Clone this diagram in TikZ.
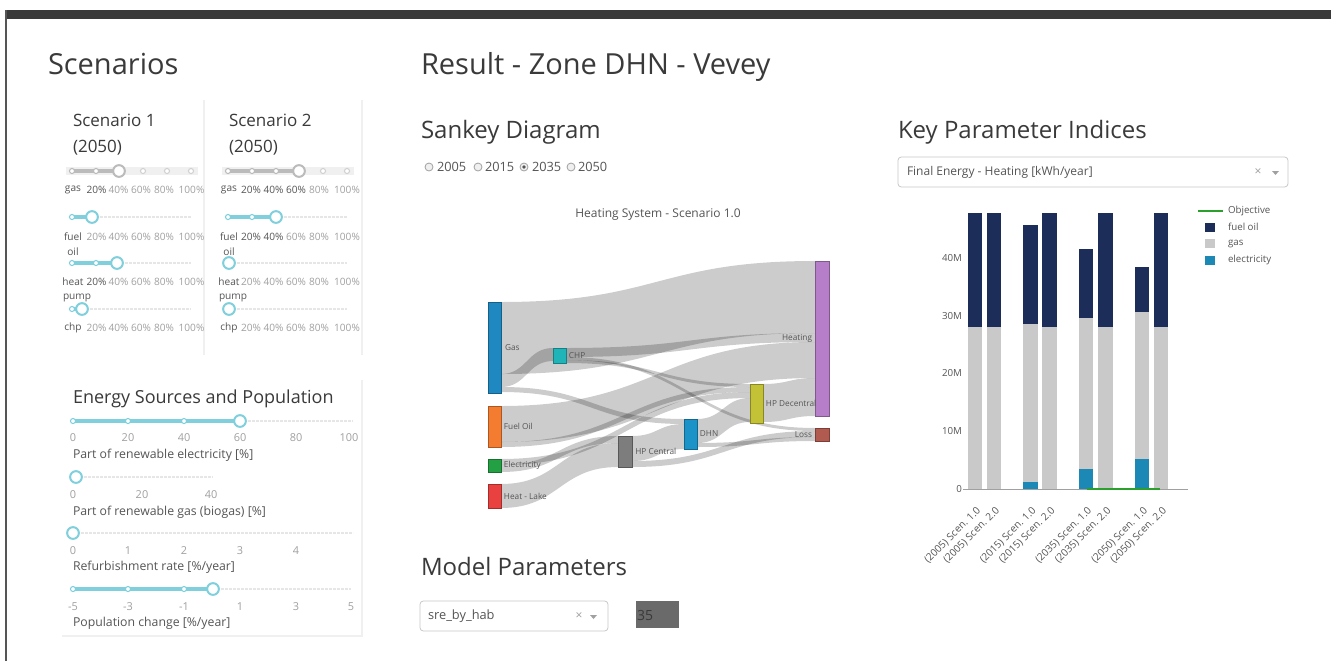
\documentclass[tikz,border=0pt]{standalone}
\usepackage{fontspec}
\setmainfont{Open Sans}
\usetikzlibrary{calc,backgrounds}
\definecolor{titlec}{HTML}{3A3A3A}
\definecolor{textc}{HTML}{555555}
\definecolor{lightc}{HTML}{A0A0A0}
\definecolor{cyanc}{HTML}{7FD0DC}
\definecolor{faintc}{HTML}{E6E6E6}
\definecolor{paneline}{HTML}{F0F0F0}
\definecolor{grayslide}{HTML}{BBBBBB}
\definecolor{navyc}{HTML}{1C2D5A}
\definecolor{gasc}{HTML}{C9C9C9}
\definecolor{elecc}{HTML}{1B88B5}
\definecolor{objc}{HTML}{2CA02C}
\definecolor{skgas}{HTML}{1F88C0}
\definecolor{skchp}{HTML}{1FB5B8}
\definecolor{skfuel}{HTML}{F47C30}
\definecolor{skelec}{HTML}{23A043}
\definecolor{sklake}{HTML}{E8413F}
\definecolor{skhpc}{HTML}{7D7D7D}
\definecolor{skdhn}{HTML}{1B92C8}
\definecolor{skhpd}{HTML}{C3C135}
\definecolor{skheat}{HTML}{B67EC8}
\definecolor{skloss}{HTML}{B05A50}
\newcommand\sknode[6]{\node[sknodestyle, fill=#6, draw=#6!70!black, minimum width={(#4-#2)*0.75pt}, minimum height={(#5-#3)*0.75pt}] (#1) at ({(#2+#4)/2},{(#3+#5)/2}) {};}
\newcommand\sklink[5]{%
  \path ($(#1.north east)+(0,#2)$) coordinate (s1) ($(#1.north east)+(0,{#2+#5})$) coordinate (s2)
        ($(#3.north west)+(0,#4)$) coordinate (t1) ($(#3.north west)+(0,{#4+#5})$) coordinate (t2)
        ($(s1)!0.5!(t1)$) coordinate (mm);
  \fill[linkc] (s1) .. controls (mm |- s1) and (mm |- t1) .. (t1) -- (t2) .. controls (mm |- t2) and (mm |- s2) .. (s2) -- cycle;}
\begin{document}
\begin{tikzpicture}[x=0.75pt,y=-0.75pt,
  txt/.style={inner sep=0pt, outer sep=0pt, text=textc},
  h1/.style={txt, anchor=base west, text=titlec, font=\fontsize{21.75}{26}\selectfont},
  h2/.style={txt, anchor=base west, text=titlec, font=\fontsize{18}{22}\selectfont},
  h3/.style={txt, anchor=base west, text=titlec, font=\fontsize{13.5}{16}\selectfont},
  scen/.style={txt, anchor=base west, text=titlec, font=\fontsize{12.75}{15}\selectfont},
  mk/.style={txt, font=\fontsize{7.6}{9}\selectfont},
  num/.style={txt, text=lightc, font=\fontsize{8.2}{10}\selectfont},
  stitle/.style={txt, anchor=west, font=\fontsize{9.2}{11}\selectfont},
  radiotxt/.style={txt, anchor=west, font=\fontsize{9.6}{11}\selectfont},
  sklab/.style={txt, text=textc, font=\fontsize{6.2}{7}\selectfont},
  sknodestyle/.style={rectangle, inner sep=0pt, outer sep=0pt, line width=0.4pt},
  linkc/.style={fill=black, fill opacity=0.2},
  tick/.style={txt, anchor=east, font=\fontsize{7.3}{9}\selectfont},
  leg/.style={txt, anchor=west, font=\fontsize{7.3}{9}\selectfont},
  xlab/.style={txt, anchor=east, rotate=45, font=\fontsize{7.6}{9}\selectfont},
  ddbox/.style={draw=gasc, line width=0.6pt, rounded corners=2.5pt},
  trackon/.style={line width=3pt, cyanc},
  trackgray/.style={line width=3pt, grayslide},
  trackoff/.style={line width=1.2pt, faintc, dash pattern=on 2pt off 1pt},
  sdot/.style={draw=cyanc, fill=white, line width=0.8pt},
  gdot/.style={draw=grayslide, fill=white, line width=0.8pt},
  ldot/.style={draw=faintc!80!gray, fill=white, line width=0.8pt},
  handle/.style={draw=cyanc, fill=white, line width=1.5pt},
  ghandle/.style={draw=grayslide, fill=white, line width=1.5pt},
  radio/.style={draw=lightc, fill=paneline, line width=0.6pt}
]
\begin{pgfonlayer}{background}
\fill[white] (0,0) rectangle (1331,661);
\end{pgfonlayer}
\useasboundingbox (0,0) rectangle (1331,661);

% frame
\fill[titlec] (5,10) rectangle (1331,19);
\draw[textc, line width=1.5pt] (5.5,10) -- (5.5,661);

% faint panel lines
\draw[paneline, line width=0.8pt] (204,100) -- (204,355);
\draw[paneline, line width=0.8pt] (362,100) -- (362,355);
\draw[paneline, line width=0.8pt] (362,380) -- (362,636) -- (62,636);

% titles
\node[h1] (tscen) at (48,74) {Scenarios};
\node[h1] (tres) at (421,74) {Result - Zone DHN - Vevey};
\node[h2] (tsankey) at (421,138) {Sankey Diagram};
\node[h2] (tkpi) at (898,138) {Key Parameter Indices};
\node[h2] (tmodel) at (421,575) {Model Parameters};
\node[h3] (tenergy) at (73,403) {Energy Sources and Population};

% scenario headers
\node[scen] (sc1a) at (73,126) {Scenario 1};
\node[scen] (sc1b) at (73,152) {(2050)};
\node[scen] (sc2a) at (229,126) {Scenario 2};
\node[scen] (sc2b) at (229,152) {(2050)};

% ---- Scenario 1 sliders
\fill[paneline] (66,167) rectangle (198,175);
\draw[trackgray] (72,171) -- (119,171);
\foreach \d in {72,96} \draw[gdot] (\d,171) circle[radius=1.9pt];
\foreach \d in {143,167,191} \draw[ldot] (\d,171) circle[radius=1.9pt];
\draw[ghandle] (119,171) circle[radius=4.4pt];
\foreach \t/\xx/\c [count=\i] in {gas/73/textc,20\%/96.5/textc,40\%/118.5/lightc,60\%/141/lightc,80\%/164/lightc,100\%/191.5/lightc}
  \node[mk,text=\c] (sag\i) at (\xx,190) {\t};

\draw[trackoff] (92,217) -- (191,217);
\draw[trackon] (72,217) -- (92,217);
\draw[sdot] (72,217) circle[radius=1.9pt];
\draw[handle] (92,217) circle[radius=4.4pt];
\foreach \t/\xx/\c [count=\i] in {fuel/73/textc,20\%/96.5/lightc,40\%/118.5/lightc,60\%/141/lightc,80\%/164/lightc,100\%/191.5/lightc}
  \node[mk,text=\c] (saf\i) at (\xx,237) {\t};
\node[mk] (saoil) at (73,252) {oil};

\draw[trackoff] (117,263) -- (191,263);
\draw[trackon] (72,263) -- (117,263);
\foreach \d in {72,96} \draw[sdot] (\d,263) circle[radius=1.9pt];
\draw[handle] (117,263) circle[radius=4.4pt];
\foreach \t/\xx/\c [count=\i] in {heat/73/textc,20\%/96.5/textc,40\%/118.5/lightc,60\%/141/lightc,80\%/164/lightc,100\%/191.5/lightc}
  \node[mk,text=\c] (sah\i) at (\xx,282) {\t};
\node[mk, anchor=west] (sapump) at (63,298) {pump};

\draw[trackoff] (82,309) -- (191,309);
\draw[trackon] (72,309) -- (82,309);
\draw[sdot] (72,309) circle[radius=1.9pt];
\draw[handle] (82,309) circle[radius=4.4pt];
\foreach \t/\xx/\c [count=\i] in {chp/73/textc,20\%/96.5/lightc,40\%/118.5/lightc,60\%/141/lightc,80\%/164/lightc,100\%/191.5/lightc}
  \node[mk,text=\c] (sac\i) at (\xx,328) {\t};

% ---- Scenario 2 sliders
\fill[paneline] (222,167) rectangle (354,175);
\draw[trackgray] (228,171) -- (299,171);
\foreach \d in {228,252,276} \draw[gdot] (\d,171) circle[radius=1.9pt];
\foreach \d in {323,347} \draw[ldot] (\d,171) circle[radius=1.9pt];
\draw[ghandle] (299,171) circle[radius=4.4pt];
\foreach \t/\xx/\c [count=\i] in {gas/229/textc,20\%/251/textc,40\%/273.5/textc,60\%/296/textc,80\%/319/lightc,100\%/347/lightc}
  \node[mk,text=\c] (sbg\i) at (\xx,190) {\t};

\draw[trackoff] (276,217) -- (347,217);
\draw[trackon] (228,217) -- (276,217);
\foreach \d in {228,252} \draw[sdot] (\d,217) circle[radius=1.9pt];
\draw[handle] (276,217) circle[radius=4.4pt];
\foreach \t/\xx/\c [count=\i] in {fuel/229/textc,20\%/251/textc,40\%/273.5/textc,60\%/296/lightc,80\%/319/lightc,100\%/347/lightc}
  \node[mk,text=\c] (sbf\i) at (\xx,237) {\t};
\node[mk] (sboil) at (229,252) {oil};

\draw[trackoff] (229,263) -- (347,263);
\draw[handle] (229,263) circle[radius=4.4pt];
\foreach \t/\xx/\c [count=\i] in {heat/229/textc,20\%/251/lightc,40\%/273.5/lightc,60\%/296/lightc,80\%/319/lightc,100\%/347/lightc}
  \node[mk,text=\c] (sbh\i) at (\xx,282) {\t};
\node[mk, anchor=west] (sbpump) at (219,298) {pump};

\draw[trackoff] (229,309) -- (347,309);
\draw[handle] (229,309) circle[radius=4.4pt];
\foreach \t/\xx/\c [count=\i] in {chp/229/textc,20\%/251/lightc,40\%/273.5/lightc,60\%/296/lightc,80\%/319/lightc,100\%/347/lightc}
  \node[mk,text=\c] (sbc\i) at (\xx,328) {\t};

% ---- Energy sources sliders
\draw[trackoff] (240,421) -- (353,421);
\draw[trackon] (73,421) -- (240,421);
\foreach \d in {73,128,184} \draw[sdot] (\d,421) circle[radius=1.9pt];
\draw[handle] (240,421) circle[radius=4.4pt];
\foreach \t/\xx [count=\i] in {0/73,20/128,40/184,60/240,80/296,100/349}
  \node[num] (ea\i) at (\xx,438) {\t};
\node[stitle] (eat) at (73,455) {Part of renewable electricity [\%]};

\draw[trackoff] (76,477) -- (213,477);
\draw[handle] (76,477) circle[radius=4.4pt];
\foreach \t/\xx [count=\i] in {0/73,20/142,40/211}
  \node[num] (eb\i) at (\xx,495) {\t};
\node[stitle] (ebt) at (73,512) {Part of renewable gas (biogas) [\%]};

\draw[trackoff] (73,533) -- (353,533);
\draw[handle] (73,533) circle[radius=4.4pt];
\foreach \t/\xx [count=\i] in {0/73,1/128,2/184,3/240,4/296}
  \node[num] (ec\i) at (\xx,551) {\t};
\node[stitle] (ect) at (73,567) {Refurbishment rate [\%/year]};

\draw[trackoff] (213,589) -- (351,589);
\draw[trackon] (73,589) -- (213,589);
\foreach \d in {73,128,184} \draw[sdot] (\d,589) circle[radius=1.9pt];
\draw[handle] (213,589) circle[radius=4.4pt];
\foreach \t/\xx [count=\i] in {-5/73,-3/128,-1/184,1/240,3/296,5/351}
  \node[num] (ed\i) at (\xx,607) {\t};
\node[stitle] (edt) at (73,623) {Population change [\%/year]};

% ---- radio buttons
\foreach \cx/\tx/\yr [count=\i] in {429/437/2005,478/485/2015,524/532/2035,571/578/2050}{
  \draw[radio] (\cx,167) circle[radius=3pt];
  \node[radiotxt] (yr\i) at (\tx,167) {\yr};
}
\fill[textc] (524,167) circle[radius=1.4pt];

% ---- Sankey
\node[txt, font=\fontsize{9}{11}\selectfont] (sktitle) at (658,215) {Heating System - Scenario 1.0};
\sknode{gas}{488}{302}{501}{393}{skgas}
\sknode{chp}{553}{348}{566}{363}{skchp}
\sknode{fuel}{488}{406}{501}{447}{skfuel}
\sknode{elec}{488}{459}{501}{472}{skelec}
\sknode{lake}{488}{484}{501}{508}{sklake}
\sknode{hpc}{618}{436}{632}{467}{skhpc}
\sknode{dhn}{684}{419}{697}{449}{skdhn}
\sknode{hpd}{750}{384}{763}{423}{skhpd}
\sknode{heat}{815}{261}{829}{416}{skheat}
\sknode{loss}{815}{428}{829}{441}{skloss}
\begin{pgfonlayer}{background}
\sklink{gas}{0}{heat}{0}{72}
\sklink{gas}{72}{chp}{0}{13}
\sklink{gas}{85}{dhn}{0}{5}
\sklink{chp}{0}{heat}{72}{9}
\sklink{chp}{9}{loss}{0}{3}
\sklink{chp}{12}{hpd}{0}{3}
\sklink{fuel}{0}{heat}{81}{36}
\sklink{fuel}{36}{hpd}{3}{5}
\sklink{elec}{0}{hpd}{8}{6}
\sklink{elec}{6}{hpc}{0}{7}
\sklink{lake}{0}{hpc}{7}{24}
\sklink{hpc}{0}{dhn}{5}{25}
\sklink{hpc}{25}{loss}{3}{6}
\sklink{dhn}{0}{hpd}{14}{24}
\sklink{dhn}{24}{loss}{9}{4}
\sklink{hpd}{0}{heat}{117}{38}
\end{pgfonlayer}
\node[sklab, anchor=west, xshift=3pt] (lgas) at (gas.east) {Gas};
\node[sklab, anchor=west, xshift=2.2pt] (lchp) at (chp.east) {CHP};
\node[sklab, anchor=west, xshift=2.2pt] (lfuel) at (fuel.east) {Fuel Oil};
\node[sklab, anchor=west, xshift=2.2pt] (lelec) at (elec.east) {Electricity};
\node[sklab, anchor=west, xshift=2.2pt] (llake) at (lake.east) {Heat - Lake};
\node[sklab, anchor=west, xshift=2.5pt] (lhpc) at (hpc.east) {HP Central};
\node[sklab, anchor=west, xshift=2.2pt] (ldhn) at (dhn.east) {DHN};
\node[sklab, anchor=west, xshift=2.2pt] (lhpd) at (hpd.east) {HP Decentral};
\node[sklab, anchor=east, xshift=-2.2pt] (lheat) at (heat.west) {Heating};
\node[sklab, anchor=east, xshift=-2.2pt] (lloss) at (loss.west) {Loss};

% ---- KPI dropdown
\draw[ddbox] (898,157) rectangle (1288,187);
\node[txt, anchor=west, font=\fontsize{9}{11}\selectfont] (ddtxt) at (907,172) {Final Energy - Heating [kWh/year]};
\node[txt, text=lightc, font=\fontsize{9}{11}\selectfont] (ddx) at (1258,172) {×};
\fill[lightc] (1272,171) -- (1279,171) -- (1275.5,175) -- cycle;

% ---- bar chart
\foreach \xa/\xb/\top/\mid/\el in {968/982/213/327/489,987/1001/213/327/489,1023/1038/225/324/482,1042/1057/213/327/489,1079/1093/249/318/469,1098/1113/213/327/489,1135/1149/267/312/459,1154/1168/213/327/489}{
  \fill[navyc] (\xa,\top) rectangle (\xb,\mid);
  \fill[gasc] (\xa,\mid) rectangle (\xb,\el);
  \fill[elecc] (\xa,\el) rectangle (\xb,489);
}
\draw[lightc, line width=0.6pt] (963,489) -- (1188,489);
\draw[objc, line width=1.3pt] (1087,489) -- (1160,489);
\foreach \t/\yy [count=\i] in {40M/258,30M/316,20M/373,10M/431,0/489}
  \node[tick] (yt\i) at (962,\yy) {\t};
\foreach \t/\xx [count=\i] in {(2005) Scen. 1.0/975,(2005) Scen. 2.0/994,(2015) Scen. 1.0/1030.5,(2015) Scen. 2.0/1049.5,(2035) Scen. 1.0/1086,(2035) Scen. 2.0/1105.5,(2050) Scen. 1.0/1142,(2050) Scen. 2.0/1161}
  \node[xlab] (xl\i) at (\xx+4,509) {\t};
% legend
\draw[objc, line width=1.3pt] (1198,211) -- (1223,211);
\node[leg] (lgobj) at (1228,211) {Objective};
\fill[navyc] (1205,223) rectangle (1215,232);
\node[leg] (lgfuel) at (1228,227) {fuel oil};
\fill[gasc] (1205,239) rectangle (1215,248);
\node[leg] (lggas) at (1228,244) {gas};
\fill[elecc] (1205,256) rectangle (1215,265);
\node[leg] (lgel) at (1228,260) {electricity};

% ---- model parameters
\draw[ddbox] (420,601) rectangle (608,631);
\node[txt, anchor=west, font=\fontsize{9.6}{11}\selectfont] (mptxt) at (428,616) {sre\_by\_hab};
\node[txt, text=lightc, font=\fontsize{9}{11}\selectfont] (mpx) at (579,616) {×};
\fill[lightc] (590,615) -- (597,615) -- (593.5,619) -- cycle;
\fill[skhpc!85!black] (636,601) rectangle (679,628);
\node[txt, anchor=west, text=titlec, font=\fontsize{10.5}{12}\selectfont] (mpval) at (637,615) {35};
\end{tikzpicture}
\end{document}
